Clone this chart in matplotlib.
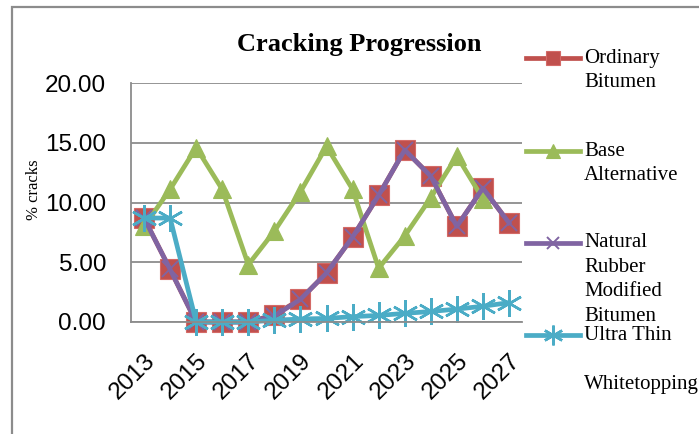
import numpy as np
import matplotlib.pyplot as plt
from matplotlib.lines import Line2D
from matplotlib.patches import Rectangle

years = list(range(2013, 2028))
ordinary = [8.7, 4.4, 0, 0, 0, 0.6, 1.9, 4.1, 7.1, 10.6, 14.4, 12.2, 8.0, 11.2, 8.3]
base_alt = [8.0, 11.1, 14.6, 11.1, 4.8, 7.6, 10.9, 14.7, 11.1, 4.5, 7.2, 10.4, 13.9, 10.3, np.nan]
rubber = [8.7, 4.4, 0, 0, 0, 0.5, 1.9, 4.1, 7.1, 10.6, 14.4, 12.2, 8.0, 11.2, 8.3]
ultra = [8.7, 8.7, 0, 0, 0, 0.15, 0.25, 0.3, 0.45, 0.55, 0.72, 0.88, 1.08, 1.32, 1.62]

labels = ['Ordinary\nBitumen', 'Base\nAlternative',
          'Natural\nRubber\nModified\nBitumen', 'Ultra Thin\n\nWhitetopping']
colors = ['#C0504D', '#9BBB59', '#8064A2', '#4BACC6']

W, H = 699, 434
fig = plt.figure(figsize=(W / 100, H / 100), dpi=100)

# outer chart frame (cropped on right and bottom)
fig.patches.append(Rectangle((12 / W, -0.1), 1.2, 1 - 7 / H + 0.1, transform=fig.transFigure,
                             fill=False, edgecolor='#8c8c8c', linewidth=1.6))

ax = fig.add_axes([131 / W, 1 - 322 / H, (522 - 131) / W, (322 - 83) / H])
x = np.arange(len(years))

styles = [
    dict(marker='s', ms=14, mfc=colors[0], mec='#d46a67', mew=0.8),
    dict(marker='^', ms=13, mfc=colors[1], mec=colors[1], mew=0.8),
    dict(marker='x', ms=11, mfc=colors[2], mec=colors[2], mew=1.4),
    dict(marker=(6, 2, 0), ms=19, mfc=colors[3], mec=colors[3], mew=1.8),
]
series = [ordinary, base_alt, rubber, ultra]
for vals, c, st in zip(series, colors, styles):
    ax.plot(x, vals, color=c, lw=3.4, solid_joinstyle='round', clip_on=False, **st)

ax.set_xlim(-0.5, len(years) - 0.5)
ax.set_ylim(0, 20)
ax.set_yticks([0, 5, 10, 15, 20])
ax.set_yticklabels([f'{v:.2f}' for v in [0, 5, 10, 15, 20]],
                   fontsize=17.5, family='Liberation Sans')
ax.set_xticks(x[::2])
ax.set_xticklabels([str(y) for y in years[::2]], rotation=45, ha='right',
                   rotation_mode='anchor', fontsize=17.5, family='Liberation Sans')
ax.tick_params(length=0)
ax.tick_params(axis='y', pad=18)
ax.tick_params(axis='x', pad=20)
ax.yaxis.grid(True, color='#8c8c8c', lw=1.3)
ax.set_axisbelow(True)
for s in ['top', 'right']:
    ax.spines[s].set_visible(False)
for s in ['left', 'bottom']:
    ax.spines[s].set_color('#8c8c8c')
    ax.spines[s].set_linewidth(1.3)

fig.text(359 / W, 1 - 45 / H, 'Cracking Progression', ha='center', va='center',
         fontsize=19, fontweight='bold', family='Liberation Serif')
fig.text(34 / W, 1 - 190 / H, '% cracks', rotation=90, ha='center', va='center',
         fontsize=12, family='Liberation Serif')

# legend, handle aligned with first text line
entry_y = [58, 151, 243, 335]
for lab, c, st, ey in zip(labels, colors, styles, entry_y):
    yf = 1 - ey / H
    fig.add_artist(Line2D([526 / W, 580 / W], [yf, yf], color=c, lw=3.4,
                          transform=fig.transFigure))
    fig.add_artist(Line2D([553 / W], [yf], color=c, lw=0, transform=fig.transFigure,
                          **{**st, 'ms': st['ms'] * 0.75}))
    for i, line in enumerate(lab.split('\n')):
        if line:
            fig.text(584 / W, 1 - (ey + 24.5 * i) / H, line, ha='left', va='center',
                     fontsize=15, family='Liberation Serif')

fig.savefig('out.png', dpi=100)
